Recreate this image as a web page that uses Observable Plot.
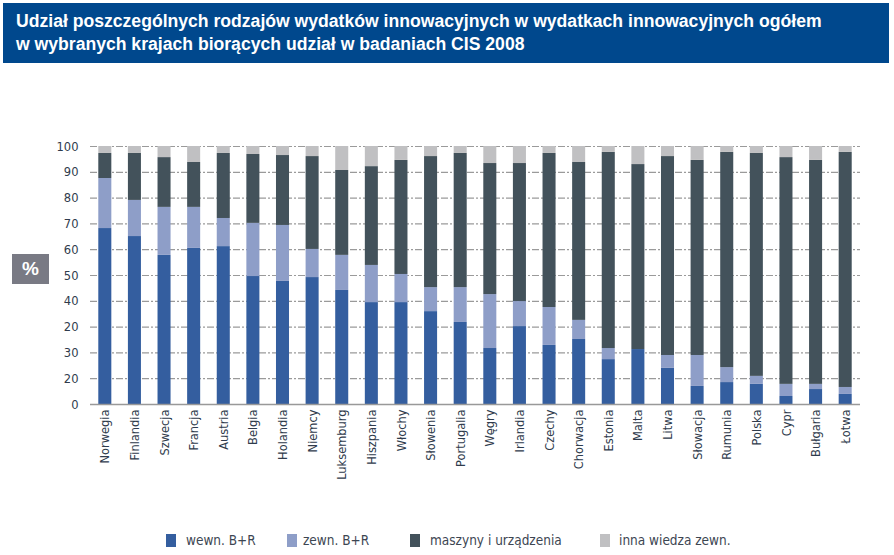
<!DOCTYPE html>
<html>
<head>
<meta charset="utf-8">
<script src="https://cdn.jsdelivr.net/npm/d3@7"></script>
<script src="https://cdn.jsdelivr.net/npm/@observablehq/plot@0.6"></script>
<style>
  html, body { margin: 0; padding: 0; background: #fff; }
  #wrap { position: relative; width: 894px; height: 555px; overflow: hidden; }
  #header { position: absolute; left: 3px; top: 3px; width: 886px; height: 60px; background: #00488d; }
  #header div { position: absolute; left: 13px; color: #fff; font-family: "Liberation Sans", Arial, sans-serif; font-weight: bold; font-size: 17.6px; white-space: nowrap; }
  #chart { position: absolute; left: 0; top: 66px; }
  #pct { position: absolute; left: 12px; top: 254px; width: 37px; height: 30px; background: #797a84; color: #fff; font-family: "Liberation Sans", Arial, sans-serif; font-weight: bold; font-size: 19px; text-align: center; line-height: 30px; }
  .leg { position: absolute; top: 531px; font-family: "Liberation Sans Narrow", "DejaVu Sans Condensed", sans-serif; font-size: 13.5px; color: #3d4652; white-space: nowrap; line-height: 18px; }
  .sw { position: absolute; top: 534px; width: 10px; height: 13px; }
</style>
</head>
<body>
<div id="wrap">
  <div id="chart"></div>
  <div id="header">
    <div id="t1" style="top:8px"></div>
    <div id="t2" style="top:31px"></div>
  </div>
  <div id="pct">%</div>
  <div id="legend"></div>
</div>
<script>
const titleLines = [
  "Udział poszczególnych rodzajów wydatków innowacyjnych w wydatkach innowacyjnych ogółem",
  "w wybranych krajach biorących udział w badaniach CIS 2008"
];
const countries = ["Norwegia","Finlandia","Szwecja","Francja","Austria","Belgia","Holandia","Niemcy","Luksemburg","Hiszpania","Włochy","Słowenia","Portugalia","Węgry","Irlandia","Czechy","Chorwacja","Estonia","Malta","Litwa","Słowacja","Rumunia","Polska","Cypr","Bułgaria","Łotwa"];
const seriesNames = ["wewn. B+R","zewn. B+R","maszyny i urządzenia","inna wiedza zewn."];
const wewnBR    = [68.2,65.1,57.8,60.5,61.2,49.6,47.7,49.2,44.2,39.5,39.5,36.0,31.8,21.7,30.2,22.9,25.2,17.4,21.3,14.0,7.0,8.5,7.8,3.1,5.8,3.9];
const zewnBR    = [19.4,14.0,18.6,15.9,10.9,20.6,21.7,10.9,13.6,14.4,10.9,9.3,13.5,20.9,9.7,14.7,7.4,4.3,0.0,5.0,12.0,5.8,3.1,4.7,2.0,2.7];
const maszyny   = [9.7,18.2,19.3,17.4,25.2,26.7,27.1,36.0,32.9,38.3,44.2,50.8,52.0,50.8,53.5,59.7,61.2,76.0,71.7,77.1,75.6,83.4,86.4,87.9,86.8,91.1];
const innaWiedza= [2.7,2.7,4.3,6.2,2.7,3.1,3.5,3.9,9.3,7.8,5.4,3.9,2.7,6.6,6.6,2.7,6.2,2.3,7.0,3.9,5.4,2.3,2.7,4.3,5.4,2.3];
const yTicks = [0,10,20,30,40,50,60,70,80,90,100];
const yTickLabels = ["0","20","30","20","40","50","60","70","80","90","100"];
const colors = ["#345e9f","#8e9ec8","#43525b","#c0c0c2"];

document.getElementById("t1").textContent = titleLines[0];
document.getElementById("t2").textContent = titleLines[1];

const seriesValues = [wewnBR, zewnBR, maszyny, innaWiedza];
const rows = [];
countries.forEach((c, i) => {
  seriesValues.forEach((vals, s) => rows.push({country: c, series: seriesNames[s], value: vals[i]}));
});

const font = '"Liberation Sans Narrow", "DejaVu Sans Condensed", sans-serif';

const chart = Plot.plot({
  width: 894,
  height: 424,
  marginTop: 80,
  marginBottom: 86,
  marginLeft: 90,
  marginRight: 34,
  style: {fontFamily: font, fontSize: "12px", color: "#2f3b4c", background: "transparent"},
  x: {domain: countries, paddingInner: 0.56, paddingOuter: 0.28, round: false, label: null},
  y: {domain: [0, 100], label: null},
  color: {domain: seriesNames, range: colors},
  marks: [
    Plot.gridY(yTicks.filter(d => d > 0), {stroke: "#9a9a9a", strokeOpacity: 1, strokeWidth: 1.2, strokeDasharray: "7,2,2,2"}),
    Plot.barY(rows, {x: "country", y: "value", fill: "series"}),
    Plot.ruleY([0], {stroke: "#999999", strokeWidth: 1.5}),
    Plot.axisY(yTicks, {tickSize: 0, tickPadding: 12, tickFormat: d => yTickLabels[yTicks.indexOf(d)], fontSize: 12.8}),
    Plot.axisX({tickSize: 0, tickPadding: 5, tickRotate: -90, fontSize: 12.7})
  ]
});
document.getElementById("chart").appendChild(chart);

// legend
const legend = document.getElementById("legend");
const swX = [166, 287, 410, 600];
const txX = [186, 303, 430, 619];
seriesNames.forEach((name, i) => {
  const sw = document.createElement("div");
  sw.className = "sw";
  sw.style.left = swX[i] + "px";
  sw.style.background = colors[i];
  legend.appendChild(sw);
  const t = document.createElement("div");
  t.className = "leg";
  t.style.left = txX[i] + "px";
  t.textContent = name;
  legend.appendChild(t);
});
</script>
</body>
</html>
